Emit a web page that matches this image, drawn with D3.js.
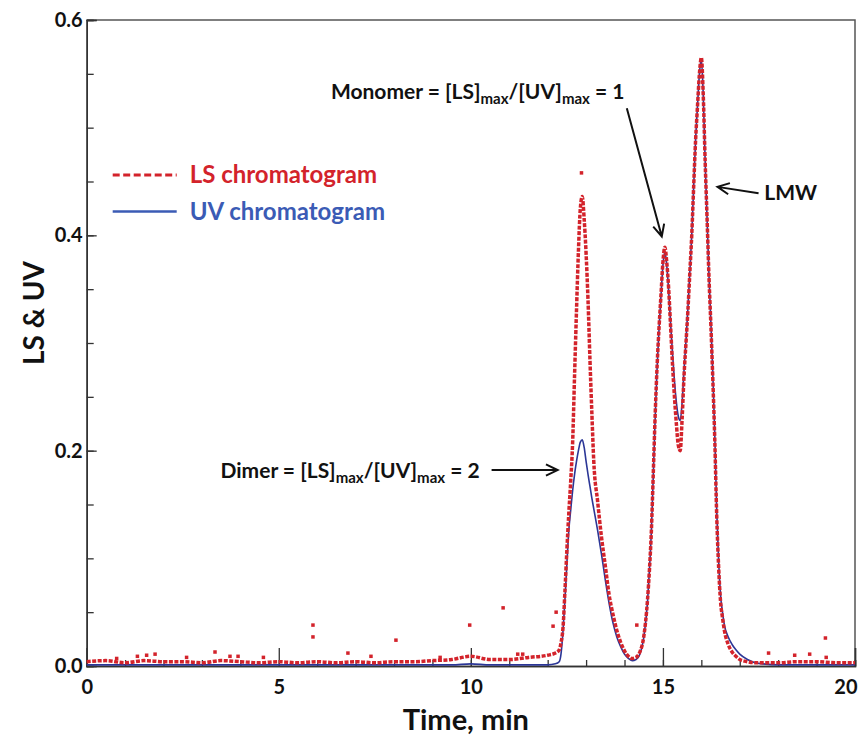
<!DOCTYPE html>
<html>
<head>
<meta charset="utf-8">
<script src="https://cdn.jsdelivr.net/npm/d3@7"></script>
<style>
body { margin: 0; background: #fff; }
text { font-family: Lato, "Open Sans", sans-serif; font-weight: bold; }
</style>
</head>
<body>
<div id="chart"></div>
<script>
// elution time (min)
var times = [0, 0.5, 1, 1.5, 2, 2.5, 3, 3.5, 4, 4.5, 5, 5.5, 6, 6.5, 7, 7.5, 8, 8.5, 9, 9.5,
   10, 10.5, 11, 11.5, 12, 12.2, 12.3, 12.35, 12.4, 12.45, 12.5, 12.55, 12.6, 12.65, 12.7, 12.75,
   12.8, 12.85, 12.9, 12.95, 13.0, 13.05, 13.1, 13.15, 13.2, 13.3, 13.4, 13.5, 13.6, 13.7, 13.8,
   13.9, 14.0, 14.1, 14.2, 14.3, 14.4, 14.5, 14.6, 14.65, 14.7, 14.75, 14.8, 14.85, 14.9, 14.95,
   15.0, 15.05, 15.1, 15.15, 15.2, 15.25, 15.3, 15.35, 15.4, 15.45, 15.5, 15.55, 15.6, 15.65, 15.7,
   15.75, 15.8, 15.85, 15.9, 15.95, 16.0, 16.05, 16.1, 16.15, 16.2, 16.25, 16.3, 16.35, 16.4, 16.45,
   16.5, 16.55, 16.6, 16.7, 16.8, 16.9, 17.0, 17.2, 17.4, 17.6, 18, 18.5, 19, 19.5, 20]

var lsValues = [0.004, 0.005, 0.003, 0.005, 0.004, 0.004, 0.003, 0.005, 0.004, 0.003, 0.004, 0.003, 0.004, 0.003, 0.004, 0.003, 0.004, 0.004, 0.005, 0.006,
   0.009, 0.006, 0.006, 0.008, 0.010, 0.012, 0.015, 0.022, 0.036, 0.07, 0.108, 0.142, 0.172, 0.208, 0.27, 0.33,
   0.385, 0.425, 0.436, 0.415, 0.383, 0.34, 0.285, 0.235, 0.19, 0.153, 0.12, 0.093, 0.066, 0.048, 0.033,
   0.022, 0.014, 0.009, 0.007, 0.008, 0.013, 0.027, 0.062, 0.09, 0.126, 0.18, 0.235, 0.28, 0.315, 0.345,
   0.375, 0.389, 0.375, 0.35, 0.315, 0.28, 0.25, 0.225, 0.205, 0.2, 0.23, 0.27, 0.3, 0.33, 0.365,
   0.4, 0.445, 0.488, 0.52, 0.55, 0.565, 0.53, 0.468, 0.415, 0.36, 0.315, 0.265, 0.21, 0.14, 0.092,
   0.06, 0.045, 0.033, 0.02, 0.013, 0.009, 0.006, 0.004, 0.003, 0.003, 0.003, 0.004, 0.004, 0.003, 0.003]

var uvValues = [0.001, 0.001, 0.001, 0.001, 0.001, 0.001, 0.001, 0.001, 0.001, 0.001, 0.001, 0.001, 0.001, 0.001, 0.001, 0.001, 0.001, 0.001, 0.001, 0.001,
   0.002, 0.001, 0.001, 0.001, 0.001, 0.002, 0.004, 0.012, 0.033, 0.062, 0.095, 0.126, 0.145, 0.163, 0.178, 0.19,
   0.2, 0.208, 0.21, 0.203, 0.19, 0.178, 0.167, 0.156, 0.146, 0.126, 0.104, 0.08, 0.058, 0.04, 0.027,
   0.018, 0.011, 0.007, 0.005, 0.006, 0.011, 0.026, 0.06, 0.09, 0.126, 0.178, 0.232, 0.278, 0.314, 0.344,
   0.372, 0.385, 0.372, 0.348, 0.318, 0.29, 0.265, 0.245, 0.232, 0.228, 0.245, 0.275, 0.302, 0.332, 0.366,
   0.4, 0.445, 0.488, 0.52, 0.55, 0.564, 0.53, 0.468, 0.415, 0.362, 0.318, 0.27, 0.215, 0.145, 0.098,
   0.066, 0.05, 0.038, 0.027, 0.02, 0.015, 0.011, 0.006, 0.003, 0.002, 0.001, 0.001, 0.001, 0.001, 0.001]

// stray LS readings
var noiseTimes = [0.78, 1.32, 1.56, 1.78, 2.6, 3.34, 3.73, 3.94, 4.6, 5.89, 5.89, 6.8, 7.4, 8.05, 9.2, 9.97,
   10.84, 11.22, 11.35, 12.14, 12.22, 12.88, 14.32, 17.75, 18.43, 18.82, 19.23, 19.25]
var noiseValues = [0.007, 0.009, 0.010, 0.011, 0.008, 0.013, 0.009, 0.009, 0.008, 0.038, 0.027, 0.012, 0.009, 0.024, 0.008, 0.038,
   0.054, 0.011, 0.011, 0.037, 0.050, 0.458, 0.038, 0.012, 0.010, 0.011, 0.026, 0.008]

var xTickValues = [0, 5, 10, 15, 20]
var yTickValues = [0, 0.2, 0.4, 0.6]
var seriesNames = ["LS chromatogram", "UV chromatogram"]

function chromatogram(selector, width, height, margins) {

   var inner_width = width - margins.left - margins.right
   var inner_height = height - margins.top - margins.bottom

   d3.select(selector).html("")

   var svg = d3.select(selector).append("svg")
               .attr("width", width)
               .attr("height", height)

   var g = svg.append("g")
               .attr("transform", "translate(" + margins.left + "," + margins.top + ")")

   var scalex = d3.scaleLinear()
                  .domain([0, 20])
                  .range([0, inner_width])

   var scaley = d3.scaleLinear()
                  .domain([0, 0.6])
                  .range([inner_height, 0])

   // frame (top + right)
   g.append("path")
      .attr("d", "M0,0H" + inner_width + "V" + inner_height)
      .attr("fill", "none")
      .attr("stroke", "#555")
      .attr("stroke-width", 1.5)

   // minor ticks, pointing inward
   g.append("g")
      .attr("class", "axis")
      .attr("transform", "translate(0," + inner_height + ")")
      .call(d3.axisBottom(scalex).ticks(20).tickSize(-6).tickFormat(""))
   g.append("g")
      .attr("class", "axis")
      .call(d3.axisLeft(scaley).ticks(12).tickSize(-7).tickFormat(""))

   // major ticks with labels
   g.append("g")
      .attr("class", "axis major")
      .attr("transform", "translate(0," + inner_height + ")")
      .call(d3.axisBottom(scalex).tickValues(xTickValues).tickSize(-18).tickPadding(14))
   g.append("g")
      .attr("class", "axis major")
      .call(d3.axisLeft(scaley).tickValues(yTickValues).tickSize(-10).tickPadding(4).tickFormat(d3.format(".1f")))

   g.selectAll(".axis path").attr("stroke", "#333").attr("stroke-width", 1.5)
   g.selectAll(".axis line").attr("stroke", "#333").attr("stroke-width", 1.3)
   g.selectAll(".major text")
      .attr("fill", "#111")
      .style("font-size", "20px")
      .style("font-family", "Lato, sans-serif")
      .style("font-weight", "bold")
   // last x label sits against the page edge
   g.selectAll(".major text").filter(function (d) { return d === 20 })
      .attr("text-anchor", "end")
      .attr("x", 2)

   var pts = times.map(function (t, i) { return {t: t, ls: lsValues[i], uv: uvValues[i]} })

   var uvline = d3.line()
                  .x(function (d) { return scalex(d.t) })
                  .y(function (d) { return scaley(d.uv) })
                  .curve(d3.curveMonotoneX)
   var lsline = d3.line()
                  .x(function (d) { return scalex(d.t) })
                  .y(function (d) { return scaley(d.ls) })
                  .curve(d3.curveMonotoneX)

   g.append("path")
      .attr("d", uvline(pts))
      .attr("fill", "none")
      .attr("stroke", "#2b3696")
      .attr("stroke-width", 1.6)

   g.append("path")
      .attr("d", lsline(pts))
      .attr("fill", "none")
      .attr("stroke", "#d3232b")
      .attr("stroke-width", 3.5)
      .attr("stroke-dasharray", "4,1.5")

   g.selectAll("rect.noise").data(noiseTimes)
      .enter().append("rect")
      .attr("class", "noise")
      .attr("x", function (d) { return scalex(d) - 1.75 })
      .attr("y", function (d, i) { return scaley(noiseValues[i]) - 1.75 })
      .attr("width", 3.5)
      .attr("height", 3.5)
      .attr("fill", "#d3232b")

   // axis titles
   g.append("text")
      .attr("x", inner_width / 2 - 5)
      .attr("y", inner_height + 64)
      .attr("text-anchor", "middle")
      .style("font-size", "29px")
      .attr("fill", "#111")
      .text("Time, min")

   g.append("text")
      .attr("transform", "translate(-43," + (inner_height / 2 - 30) + ") rotate(-90)")
      .attr("text-anchor", "middle")
      .style("font-size", "28px")
      .attr("fill", "#111")
      .text("LS & UV")

   // legend
   var colors = ["#d3232b", "#3b5bb5"]
   var legend = g.selectAll("g.legend").data(seriesNames)
      .enter().append("g")
      .attr("class", "legend")
      .attr("transform", function (d, i) { return "translate(26," + (155 + i * 36.5) + ")" })
   legend.append("line")
      .attr("x1", 0).attr("x2", 64)
      .attr("stroke", function (d, i) { return colors[i] })
      .attr("stroke-width", function (d, i) { return i == 0 ? 3 : 2.5 })
      .attr("stroke-dasharray", function (d, i) { return i == 0 ? "7,3.5" : null })
   legend.append("text")
      .attr("x", 77).attr("y", 8)
      .style("font-size", "24px")
      .attr("fill", function (d, i) { return colors[i] })
      .text(function (d) { return d })

   // annotations
   function ratioLabel(x, y, name, value) {
      var t = g.append("text")
         .attr("x", x).attr("y", y)
         .attr("text-anchor", "end")
         .style("font-size", "21px")
         .attr("fill", "#111")
      t.append("tspan").text(name + " = [LS]")
      t.append("tspan").attr("dy", 5).style("font-size", "15px").text("max")
      t.append("tspan").attr("dy", -5).text("/[UV]")
      t.append("tspan").attr("dy", 5).style("font-size", "15px").text("max")
      t.append("tspan").attr("dy", -5).text(" = " + value)
   }

   function arrow(x1, y1, x2, y2) {
      var ang = Math.atan2(y2 - y1, x2 - x1)
      var len = 13, spread = 0.45
      var p = d3.path()
      p.moveTo(x1, y1)
      p.lineTo(x2, y2)
      p.moveTo(x2 - len * Math.cos(ang - spread), y2 - len * Math.sin(ang - spread))
      p.lineTo(x2, y2)
      p.lineTo(x2 - len * Math.cos(ang + spread), y2 - len * Math.sin(ang + spread))
      g.append("path")
         .attr("d", p.toString())
         .attr("fill", "none")
         .attr("stroke", "#111")
         .attr("stroke-width", 2)
   }

   ratioLabel(scalex(14.0), scaley(0.527), "Monomer", 1)
   arrow(scalex(14.06), scaley(0.518), scalex(14.97), scaley(0.399))

   ratioLabel(scalex(10.23), scaley(0.175), "Dimer", 2)
   arrow(scalex(10.54), scaley(0.182), scalex(12.26), scaley(0.182))

   g.append("text")
      .attr("x", scalex(17.64)).attr("y", scaley(0.433))
      .style("font-size", "21px")
      .attr("fill", "#111")
      .text("LMW")
   arrow(scalex(17.49), scaley(0.439), scalex(16.42), scaley(0.445))
}

chromatogram("#chart", 865, 735, {top: 20, right: 10, bottom: 69, left: 86.7})
</script>
</body>
</html>
